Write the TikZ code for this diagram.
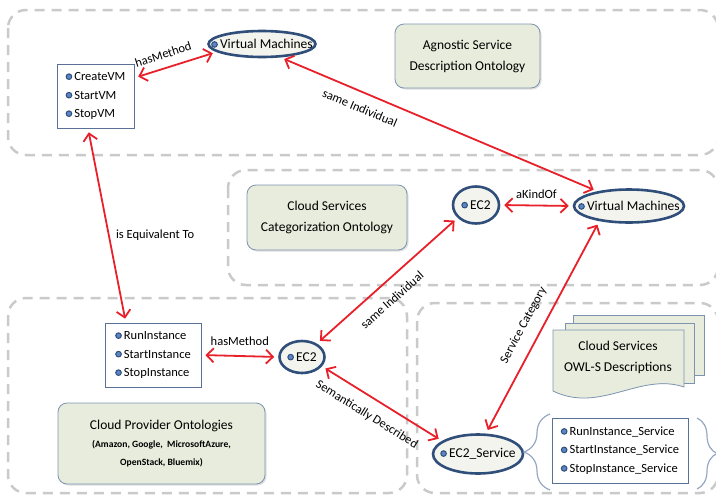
\documentclass[tikz,border=0pt]{standalone}
\usepackage{fontspec}
\setmainfont{Carlito}
\usetikzlibrary{shapes.geometric,arrows.meta,shadows,decorations.pathreplacing}
\definecolor{indblue}{HTML}{2F4E79}
\definecolor{bulfill}{HTML}{5B85C5}
\definecolor{ontfill}{HTML}{E7ECDC}
\definecolor{ontline}{HTML}{7D93B2}
\definecolor{indfill}{HTML}{F4F4EF}
\definecolor{relred}{HTML}{E8202A}
\definecolor{regiongray}{HTML}{CACACA}
\definecolor{bracegray}{HTML}{97A8C4}
\newcommand\bul{\tikz[baseline=-0.65ex]\draw[indblue,fill=bulfill,line width=1pt] (0,0) circle (2.8pt);}
\newcommand\indtxt[1]{\makebox[0pt]{\bul\,#1}}

\begin{document}
\begin{tikzpicture}[x=1pt,y=-1pt]
\tikzset{region/.style = {draw=regiongray, line width=2.5pt, dash pattern=on 10pt off 7pt, rounded corners=18pt},
  onto/.style = {draw=ontline, fill=ontfill, rounded corners=9pt, line width=0.8pt, align=center,
    font=\fontsize{13.5}{21}\selectfont, drop shadow={opacity=0.25,shadow xshift=1.5pt,shadow yshift=-1.5pt}},
  sheet/.style = {draw=ontline, fill=ontfill, line width=0.8pt},
  indiv/.style = {ellipse, draw=indblue, fill=indfill, line width=2.6pt, inner sep=0pt, font=\fontsize{13.5}{15}\selectfont},
  methods/.style = {draw=indblue!80, fill=white, line width=0.8pt, align=left, font=\fontsize{12.5}{18.5}\selectfont},
  rel/.style = {relred, line width=1.8pt, {Straight Barb[length=7pt,width=14pt]}-{Straight Barb[length=7pt,width=14pt]},
    shorten <=4pt, shorten >=4pt},
  lbl/.style = {black, font=\fontsize{12.5}{14}\selectfont}}
\useasboundingbox (0,0) rectangle (716,496);
\clip (0,0) rectangle (716,496);
% vung ontology
\draw[region] (8,10) rectangle (718,155);
\draw[region] (228,170) rectangle (718,285);
\draw[region] (8,298) rectangle (407,493);
\draw[region] (417,303) rectangle (718,493);
% agnostic
\node[indiv, minimum width=107, minimum height=26] (vmA) at (262,44) {\indtxt{Virtual Machines}};
\node[methods, minimum width=77, minimum height=64] (cvm) at (95.5,96) {\bul\,CreateVM\\\bul\,StartVM\\\bul\,StopVM};
\node[onto, minimum width=145, minimum height=64] (asdo) at (467.5,56) {Agnostic Service\\Description Ontology};
% categorization
\node[onto, minimum width=160, minimum height=65] (csco) at (327,217.5) {Cloud Services\\Categorization Ontology};
\node[indiv, minimum width=46, minimum height=37] (ec2m) at (476,205) {\indtxt{EC2}};
\node[indiv, minimum width=110, minimum height=33] (vmB) at (629,206) {\indtxt{Virtual Machines}};
% provider
\node[methods, minimum width=96, minimum height=64] (rib) at (153,355) {\bul\,RunInstance\\\bul\,StartInstance\\\bul\,StopInstance};
\node[indiv, minimum width=45, minimum height=32] (ec2b) at (302,357) {\indtxt{EC2}};
\node[onto, minimum width=207, minimum height=81] (cpo) at (161.5,443.5) {Cloud Provider Ontologies\\[-3pt]
  {\fontsize{9.6}{12}\selectfont\bfseries (Amazon, Google,\ \ MicrosoftAzure,}\\[-3pt]{\fontsize{9.6}{12}\selectfont\bfseries OpenStack, Bluemix)}};
% owl-s
\filldraw[sheet] (573,315) rectangle (704,375);
\filldraw[sheet] (565,323) rectangle (694,383);
\filldraw[sheet] (553,330) -- (684,330) -- (684,387) .. controls (640,372) and (600,414) .. (553,391) -- cycle;
\node[align=center, font=\fontsize{13.5}{21}\selectfont] (owls) at (618,357) {Cloud Services\\OWL-S Descriptions};
\node[indiv, minimum width=90, minimum height=39] (ec2s) at (478,454) {\indtxt{EC2\_Service}};
\node[methods, minimum width=136, minimum height=65] (ribs) at (620,450.5) {\bul\,RunInstance\_Service\\\bul\,StartInstance\_Service\\\bul\,StopInstance\_Service};
\draw[bracegray, line width=1.2pt, decorate, decoration={brace, amplitude=26pt}] (550,490) -- (550,414);
\draw[bracegray, line width=1.2pt, decorate, decoration={brace, amplitude=20pt}] (697,418) -- (697,489);
% quan he
\draw[rel] (cvm.25) -- node[lbl, above=5pt, sloped, pos=0.4] {hasMethod} (vmA.190);
\draw[rel] (vmA.-36) -- node[lbl, below=7pt, sloped, pos=0.27] {same Individual} (vmB.155);
\draw[rel] (cvm.-103) -- node[lbl, right=3pt, pos=0.55] {is Equivalent To} (rib.130);
\draw[rel] (ec2m.east) -- node[lbl, above=3pt] {aKindOf} (vmB.west);
\draw[rel] (ec2b.42) -- node[lbl, below=9pt, sloped, pos=0.45] {same Individual} (ec2m.215);
\draw[rel] (rib.east) -- node[lbl, above=6pt] {hasMethod} (ec2b.west);
\draw[rel] (ec2b.-25) -- node[lbl, below=8pt, sloped, pos=0.45] {Semantically Described} (ec2s.160);
\draw[rel] (ec2s.69) -- node[lbl, above=8pt, sloped, pos=0.47] {Service Category} (vmB.-153);
\end{tikzpicture}
\end{document}
